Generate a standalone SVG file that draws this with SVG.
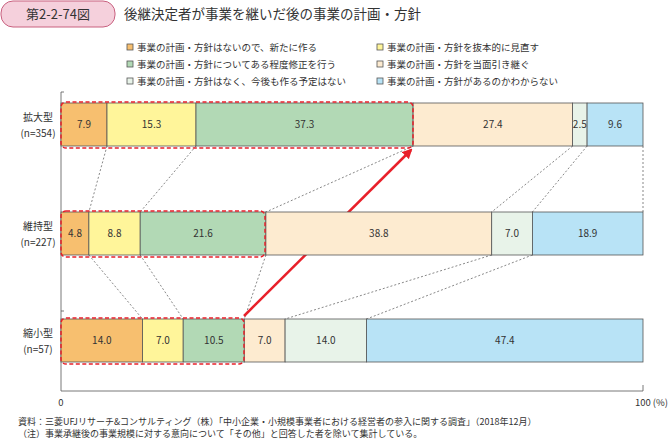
<svg xmlns="http://www.w3.org/2000/svg" width="669" height="440" viewBox="0 0 669 440">
<style>
text{font-family:"Noto Sans CJK JP","Noto Sans",sans-serif;fill:#333}
.v{font-size:10px;text-anchor:middle}
.lg{font-size:9.5px}
.c1{fill:#f7bf6f}.c2{fill:#fff59a}.c3{fill:#b2d9b5}.c4{fill:#fdebd0}.c5{fill:#e8f3e9}.c6{fill:#b8e3f6}
.s{stroke:#555;stroke-width:0.8}
.d{stroke:#555;stroke-width:0.7;stroke-dasharray:2,2;fill:none}
.r{fill:none;stroke:#e8202a;stroke-width:1.5;stroke-dasharray:4,2.5}
.lab{font-size:10px;text-anchor:middle}
</style>
<defs><marker id="ah" viewBox="0 0 10 10" refX="8" refY="5" markerWidth="4" markerHeight="4" orient="auto"><path d="M0,0L10,5L0,10z" fill="#e8202a"/></marker></defs>
<g id="header">
<rect x="1" y="1" width="114" height="26" rx="12" fill="#f5d0dc" stroke="#c8607f"/>
<text x="58" y="19" font-size="13" text-anchor="middle">第2-2-74図</text>
<text x="124" y="19" font-size="13.5">後継決定者が事業を継いだ後の事業の計画・方針</text>
</g>
<g id="legend">
<rect x="127" y="44" width="6" height="6" class="c1 s"/><text x="137" y="51" class="lg">事業の計画・方針はないので、新たに作る</text>
<rect x="377" y="44" width="6" height="6" class="c2 s"/><text x="387" y="51" class="lg">事業の計画・方針を抜本的に見直す</text>
<rect x="127" y="61" width="6" height="6" class="c3 s"/><text x="137" y="68" class="lg">事業の計画・方針についてある程度修正を行う</text>
<rect x="377" y="61" width="6" height="6" class="c4 s"/><text x="387" y="68" class="lg">事業の計画・方針を当面引き継ぐ</text>
<rect x="127" y="78" width="6" height="6" class="c5 s"/><text x="137" y="85" class="lg">事業の計画・方針はなく、今後も作る予定はない</text>
<rect x="377" y="78" width="6" height="6" class="c6 s"/><text x="387" y="85" class="lg">事業の計画・方針があるのかわからない</text>
</g>
<g id="axis" stroke="#555" stroke-width="0.8" fill="none">
<path d="M61,92V391H643V385"/>
<path d="M61,92h3M61,311h3"/>
</g>
<text x="61" y="406" font-size="9.5" text-anchor="middle">0</text>
<text x="668" y="406" font-size="9.5" text-anchor="end">100 (%)</text>
<g id="labels">
<text x="38" y="121" class="lab">拡大型</text><text x="38" y="137" class="lab">(n=354)</text>
<text x="38" y="230" class="lab">維持型</text><text x="38" y="246" class="lab">(n=227)</text>
<text x="38" y="337" class="lab">縮小型</text><text x="38" y="353" class="lab">(n=57)</text>
</g>
<g id="connectors">
<path class="d" d="M107,146L88.9,212M196,146L140.2,212M413.1,146L265.9,212M572.6,146L491.7,212M587.1,146L532.4,212M643,146L643,212"/>
<path class="d" d="M88.9,255L142.5,319M140.2,255L183.2,319M265.9,255L244.3,319M491.7,255L285.1,319M532.4,255L366.5,319"/>
<path d="M244,316L411,150" stroke="#e8202a" stroke-width="2.5" marker-end="url(#ah)"/>
</g>
<g id="bar-kakudai">
<rect x="61" y="103" width="46" height="43" class="c1 s"/><rect x="107" y="103" width="89" height="43" class="c2 s"/><rect x="196" y="103" width="217.1" height="43" class="c3 s"/><rect x="413.1" y="103" width="159.5" height="43" class="c4 s"/><rect x="572.6" y="103" width="14.5" height="43" class="c5 s"/><rect x="587.1" y="103" width="55.9" height="43" class="c6 s"/>
<text x="84" y="128" class="v">7.9</text><text x="151.5" y="128" class="v">15.3</text><text x="304.5" y="128" class="v">37.3</text><text x="492.8" y="128" class="v">27.4</text><text x="579.8" y="128" class="v">2.5</text><text x="615" y="128" class="v">9.6</text>
<rect x="61" y="102" width="352" height="46" rx="5" class="r"/>
</g>
<g id="bar-iji">
<rect x="61" y="212" width="27.9" height="43" class="c1 s"/><rect x="88.9" y="212" width="51.3" height="43" class="c2 s"/><rect x="140.2" y="212" width="125.7" height="43" class="c3 s"/><rect x="265.9" y="212" width="225.8" height="43" class="c4 s"/><rect x="491.7" y="212" width="40.7" height="43" class="c5 s"/><rect x="532.4" y="212" width="110.6" height="43" class="c6 s"/>
<text x="75" y="237" class="v">4.8</text><text x="114.5" y="237" class="v">8.8</text><text x="203" y="237" class="v">21.6</text><text x="378.8" y="237" class="v">38.8</text><text x="512" y="237" class="v">7.0</text><text x="587.7" y="237" class="v">18.9</text>
<rect x="61" y="211" width="204" height="46" rx="5" class="r"/>
</g>
<g id="bar-shukusho">
<rect x="61" y="319" width="81.5" height="43" class="c1 s"/><rect x="142.5" y="319" width="40.7" height="43" class="c2 s"/><rect x="183.2" y="319" width="61.1" height="43" class="c3 s"/><rect x="244.3" y="319" width="40.8" height="43" class="c4 s"/><rect x="285.1" y="319" width="81.4" height="43" class="c5 s"/><rect x="366.5" y="319" width="276.5" height="43" class="c6 s"/>
<text x="101.8" y="344" class="v">14.0</text><text x="162.9" y="344" class="v">7.0</text><text x="213.8" y="344" class="v">10.5</text><text x="264.7" y="344" class="v">7.0</text><text x="325.8" y="344" class="v">14.0</text><text x="504.8" y="344" class="v">47.4</text>
<rect x="61" y="318" width="183" height="46" rx="5" class="r"/>
</g>
<g id="notes">
<text x="18" y="425" font-size="9">資料：三菱UFJリサーチ&amp;コンサルティング（株）「中小企業・小規模事業者における経営者の参入に関する調査」（2018年12月）</text>
<text x="18" y="437" font-size="9">（注）事業承継後の事業規模に対する意向について「その他」と回答した者を除いて集計している。</text>
</g>
</svg>
